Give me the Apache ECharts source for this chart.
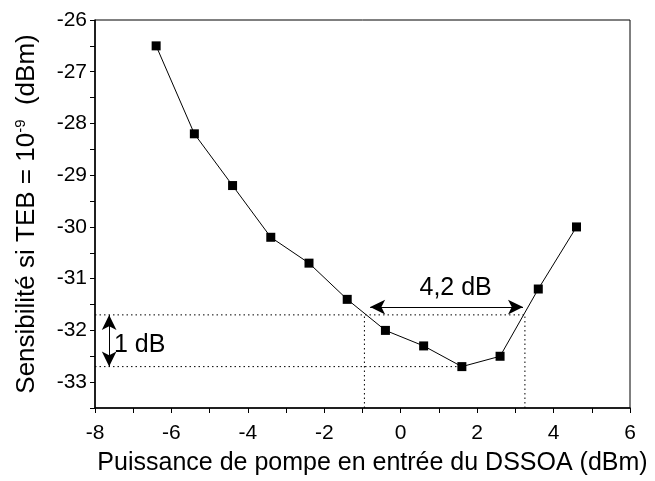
<!DOCTYPE html>
<html><head><meta charset="utf-8">
<script src="https://cdn.jsdelivr.net/npm/echarts@6/dist/echarts.min.js"></script>
<style>html,body{margin:0;padding:0;background:#fff}#c{width:655px;height:481px}</style>
</head><body><div id="c"></div>
<script>
var pumpPower = [-6.4, -5.4, -4.4, -3.4, -2.4, -1.4, -0.4, 0.6, 1.6, 2.6, 3.6, 4.6];
var sensitivity = [-26.5, -28.2, -29.2, -30.2, -30.7, -31.4, -32.0, -32.3, -32.7, -32.5, -31.2, -30.0];
var refLevels = [-31.7, -32.7];        // 1 dB band
var bandEdges = [-0.95, 3.25];         // 4,2 dB width
var minPointX = 1.6;
var arrowLevel = -31.55;
var vArrowX = -7.63;
var labelWidth = '4,2 dB', labelDepth = '1 dB';
var xLabelPos = [1.45, -31.2], yLabelPos = [-6.82, -32.3];

var F = 'Liberation Sans, Arial, sans-serif';
var chart = echarts.init(document.getElementById('c'), null, {renderer:'canvas'});
var dot = {color:'#000', width:1, type:[1.5,3]};
var pts = pumpPower.map(function(x,i){return [x, sensitivity[i]];});
chart.setOption({
  animation:false,
  grid:{left:95,right:25,top:20,bottom:71,show:true,borderColor:'#000',borderWidth:1},
  xAxis:{type:'value',min:-8,max:6,interval:1,
    axisLine:{onZero:false,lineStyle:{color:'#000',width:1.5}},
    axisTick:{length:5,lineStyle:{color:'#000',width:1}},
    splitLine:{show:false},
    axisLabel:{margin:15,fontFamily:F,fontSize:21,color:'#000',formatter:function(v){return v%2===0?String(v):'';}},
    name:'Puissance de pompe en entrée du DSSOA (dBm)',nameLocation:'middle',nameGap:43,
    nameTextStyle:{fontFamily:F,fontSize:25,color:'#000',padding:[0,0,0,20]}},
  yAxis:{type:'value',min:-33.5,max:-26,interval:0.5,
    axisLine:{onZero:false,lineStyle:{color:'#000',width:1.5}},
    axisTick:{length:5,lineStyle:{color:'#000',width:1}},
    splitLine:{show:false},
    axisLabel:{margin:8,fontFamily:F,fontSize:21,color:'#000',formatter:function(v){return Number.isInteger(v)?String(v):'';}},
    name:'{a|Sensibilité si TEB = 10}{s|-9}{a|  (dBm)}',nameLocation:'middle',nameGap:54,nameRotate:90,
    nameTextStyle:{rich:{a:{fontFamily:F,fontSize:26,color:'#000'},s:{fontFamily:F,fontSize:15,color:'#000',verticalAlign:'top',padding:[0,0,13,0]}}}},
  series:[
    {type:'line',data:pts,symbol:'rect',symbolSize:9,showSymbol:true,
     itemStyle:{color:'#000'},lineStyle:{color:'#000',width:1},z:5},
    {type:'line',symbol:'none',lineStyle:dot,data:[[-8,refLevels[0]],[bandEdges[1],refLevels[0]]],z:2},
    {type:'line',symbol:'none',lineStyle:dot,data:[[-8,refLevels[1]],[minPointX,refLevels[1]]],z:2},
    {type:'line',symbol:'none',lineStyle:dot,data:[[bandEdges[0],-33.5],[bandEdges[0],refLevels[0]]],z:2},
    {type:'line',symbol:'none',lineStyle:dot,data:[[bandEdges[1],-33.5],[bandEdges[1],refLevels[0]]],z:2},
    {type:'line',symbol:'none',data:[],
     markLine:{silent:true,symbol:['arrow','arrow'],symbolSize:[11,15],
       lineStyle:{color:'#000',width:1,type:'solid'},label:{show:false},
       data:[
         [{coord:[bandEdges[0]+0.15,arrowLevel]},{coord:[bandEdges[1]-0.05,arrowLevel]}],
         [{coord:[vArrowX,refLevels[0]]},{coord:[vArrowX,refLevels[1]]}]
       ]}},
    {type:'scatter',symbolSize:1,silent:true,itemStyle:{color:'rgba(0,0,0,0)'},
     data:[{value:xLabelPos,name:labelWidth},{value:yLabelPos,name:labelDepth}],
     label:{show:true,position:[0,0],align:'center',verticalAlign:'middle',formatter:'{b}',
       fontFamily:F,fontSize:25,color:'#000',textBorderWidth:0,opacity:1}}
  ]
});
</script></body></html>
